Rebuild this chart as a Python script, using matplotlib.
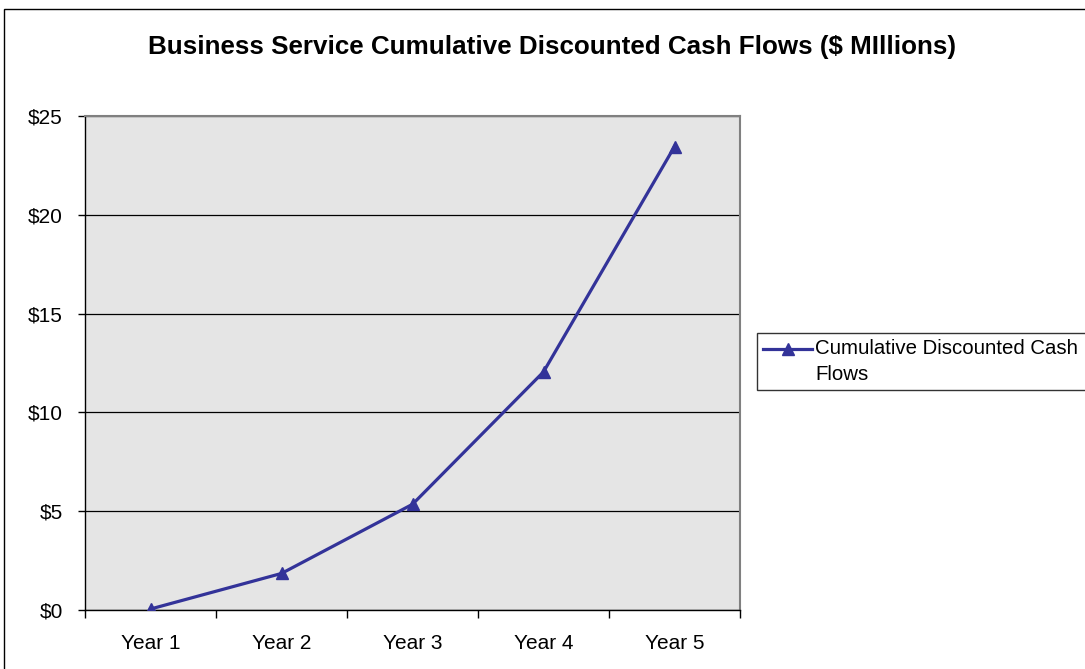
import matplotlib
matplotlib.use("Agg")
import matplotlib.pyplot as plt
from matplotlib.patches import Rectangle
from matplotlib.legend_handler import HandlerLine2D

categories = ["Year 1", "Year 2", "Year 3", "Year 4", "Year 5"]
values = [0.05, 1.85, 5.35, 12.05, 23.45]
yticks = [0, 5, 10, 15, 20, 25]
ytick_labels = ["$0", "$5", "$10", "$15", "$20", "$25"]
series_name = "Cumulative Discounted Cash  \nFlows"
title = "Business Service Cumulative Discounted Cash Flows ($ MIllions)"

plt.rcParams['font.family'] = ['Liberation Sans', 'DejaVu Sans']
FS = 15
LFS = 14.7

W, H = 1085, 669
fig = plt.figure(figsize=(W / 100, H / 100), dpi=100)
fig.patch.set_facecolor("white")

# outer chart border
fig.add_artist(Rectangle((4 / W, -0.05), 1.2, 1 - 9 / H + 0.05, transform=fig.transFigure,
                         fill=False, edgecolor="black", linewidth=1.0))

ax = fig.add_axes([85 / W, 1 - 610 / H, (740 - 85) / W, (610 - 116) / H])
ax.set_facecolor("#E5E5E5")

x = list(range(1, len(categories) + 1))
line, = ax.plot(x, values, color="#333399", linewidth=2.3, marker="^", markersize=8,
                markerfacecolor="#333399", markeredgecolor="#333399", label=series_name,
                zorder=3)

ax.set_xlim(0.5, len(categories) + 0.5)
ax.set_ylim(0, 25)

ax.set_yticks(yticks)
ax.set_yticklabels(ytick_labels, fontsize=FS)
ax.tick_params(axis="y", direction="out", length=5, width=1, pad=11, colors="black")

ax.set_xticks([i + 0.5 for i in range(0, len(categories) + 1)])
ax.set_xticklabels([])
ax.set_xticks(x, minor=True)
ax.set_xticklabels(categories, minor=True, fontsize=FS)
ax.tick_params(axis="x", which="major", direction="out", length=6, width=1, colors="black")
ax.tick_params(axis="x", which="minor", length=0, pad=17)

ax.yaxis.grid(True, color="black", linewidth=0.9)
ax.set_axisbelow(True)

for s in ["top", "right"]:
    ax.spines[s].set_color("#808080")
    ax.spines[s].set_linewidth(1.5)
for s in ["left", "bottom"]:
    ax.spines[s].set_color("black")
    ax.spines[s].set_linewidth(1.0)

fig.text(552 / W, 1 - 47 / H, title, ha="center", va="center", fontsize=18.7, fontweight="bold")


class RaisedHandler(HandlerLine2D):
    def create_artists(self, legend, orig_handle, xdescent, ydescent, width, height,
                       fontsize, trans):
        arts = super().create_artists(legend, orig_handle, xdescent, ydescent, width, height,
                                      fontsize, trans)
        for a in arts:
            yd = a.get_ydata()
            a.set_ydata([v + 0.62 * fontsize for v in yd])
        return arts


leg = fig.legend(handles=[line], loc="upper left", bbox_to_anchor=(757 / W, 1 - 333 / H),
                 fontsize=LFS, frameon=True, fancybox=False, shadow=False,
                 handlelength=2.4, handletextpad=0.15, borderpad=0.3, borderaxespad=0,
                 handler_map={line: RaisedHandler()})
for t in leg.get_texts():
    t.set_linespacing(1.45)
leg.get_frame().set_edgecolor("black")
leg.get_frame().set_linewidth(1.0)

fig.savefig("out.png", dpi=100)
